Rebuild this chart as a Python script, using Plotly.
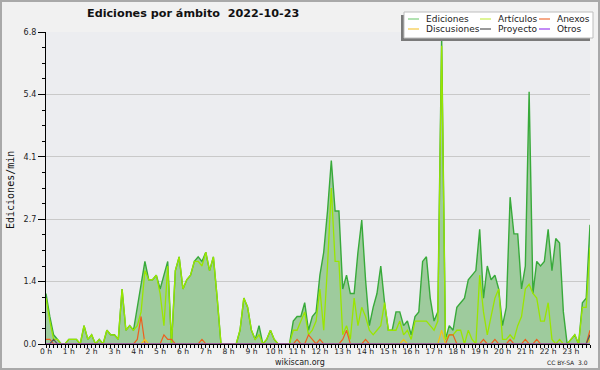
import plotly.graph_objects as go

# ---------------- data (10-minute bins, edits per minute) ----------------
hour_labels = [f"{h} h" for h in range(24)]
bins_per_hour = 6

ediciones = [
    1.1, 0.6, 0.2, 0.1, 0.0, 0.0,   # 0 h
    0.1, 0.1, 0.1, 0.0, 0.4, 0.1,   # 1 h
    0.2, 0.0, 0.1, 0.0, 0.3, 0.2,   # 2 h
    0.2, 0.1, 1.2, 0.3, 0.4, 0.3,   # 3 h
    0.8, 1.3, 1.8, 1.4, 1.4, 1.5,   # 4 h
    1.2, 1.5, 1.8, 0.0, 1.6, 1.9,   # 5 h
    1.2, 1.4, 1.5, 1.8, 1.9, 1.8,   # 6 h
    2.0, 1.6, 1.9, 1.0, 0.0, 0.0,   # 7 h
    0.0, 0.0, 0.0, 0.3, 1.0, 0.8,   # 8 h
    0.3, 0.1, 0.4, 0.0, 0.1, 0.3,   # 9 h
    0.1, 0.0, 0.0, 0.0, 0.0, 0.5,   # 10 h
    0.6, 0.6, 0.9, 0.3, 0.6, 0.7,   # 11 h
    1.5, 2.0, 2.9, 4.0, 2.9, 2.9,   # 12 h
    1.2, 1.5, 1.1, 1.1, 2.0, 2.7,   # 13 h
    1.4, 0.4, 0.8, 1.1, 1.7, 0.9,   # 14 h
    0.3, 0.3, 0.7, 0.7, 0.4, 0.5,   # 15 h
    0.2, 0.6, 0.7, 1.8, 1.9, 1.0,   # 16 h
    0.5, 0.7, 6.7, 0.1, 0.4, 0.3,   # 17 h
    0.8, 0.9, 1.0, 1.4, 1.5, 1.6,   # 18 h
    2.5, 1.0, 1.7, 1.4, 1.5, 1.2,   # 19 h
    0.4, 0.8, 3.2, 2.4, 2.4, 1.2,   # 20 h
    1.7, 5.5, 1.1, 1.8, 1.7, 1.8,   # 21 h
    2.5, 1.6, 2.3, 2.2, 0.7, 0.0,   # 22 h
    0.1, 0.2, 0.0, 0.9, 1.0, 2.6,   # 23 h
]

articulos = [
    1.0, 0.5, 0.1, 0.1, 0.0, 0.0,
    0.1, 0.1, 0.1, 0.0, 0.4, 0.1,
    0.2, 0.0, 0.1, 0.0, 0.3, 0.2,
    0.2, 0.1, 1.2, 0.3, 0.4, 0.3,
    0.4, 0.7, 1.6, 1.4, 1.4, 1.5,
    1.1, 0.4, 1.7, 0.0, 1.6, 1.9,
    1.2, 1.4, 1.5, 1.8, 1.8, 1.7,
    2.0, 1.6, 1.9, 1.0, 0.0, 0.0,
    0.0, 0.0, 0.0, 0.3, 1.0, 0.8,
    0.3, 0.1, 0.2, 0.0, 0.1, 0.3,
    0.1, 0.0, 0.0, 0.0, 0.0, 0.3,
    0.3, 0.5, 0.7, 0.2, 0.3, 0.5,
    1.2, 0.3, 1.7, 3.4, 1.8, 1.8,
    0.2, 0.4, 0.1, 1.0, 0.4, 0.8,
    0.6, 0.3, 0.2, 0.3, 0.4, 0.9,
    0.3, 0.3, 0.3, 0.5, 0.2, 0.3,
    0.1, 0.5, 0.5, 0.5, 0.5, 0.4,
    0.3, 0.5, 6.5, 0.1, 0.2, 0.2,
    0.3, 0.3, 0.0, 0.3, 0.1, 0.0,
    1.5, 0.7, 0.2, 0.6, 1.0, 1.2,
    0.1, 0.1, 0.2, 0.1, 0.4, 0.6,
    1.2, 1.3, 1.1, 1.0, 0.5, 0.5,
    0.9, 0.1, 0.0, 0.1, 0.0, 0.0,
    0.1, 0.2, 0.0, 0.8, 0.8, 2.1,
]

anexos = [
    0.1, 0.1, 0.0, 0.0, 0.0, 0.0,
    0.0, 0.0, 0.0, 0.0, 0.0, 0.0,
    0.0, 0.0, 0.0, 0.0, 0.0, 0.0,
    0.0, 0.0, 0.0, 0.0, 0.0, 0.0,
    0.1, 0.6, 0.0, 0.0, 0.0, 0.0,
    0.0, 0.2, 0.1, 0.1, 0.0, 0.0,
    0.0, 0.0, 0.0, 0.0, 0.0, 0.1,
    0.0, 0.0, 0.0, 0.0, 0.0, 0.0,
    0.0, 0.0, 0.0, 0.0, 0.0, 0.0,
    0.0, 0.0, 0.0, 0.0, 0.0, 0.0,
    0.0, 0.0, 0.0, 0.0, 0.0, 0.0,
    0.1, 0.0, 0.0, 0.2, 0.1, 0.0,
    0.1, 0.0, 0.0, 0.0, 0.0, 0.0,
    0.1, 0.3, 0.0, 0.0, 0.0, 0.0,
    0.1, 0.0, 0.0, 0.0, 0.0, 0.0,
    0.0, 0.0, 0.0, 0.0, 0.0, 0.0,
    0.0, 0.0, 0.0, 0.0, 0.0, 0.0,
    0.0, 0.0, 0.0, 0.0, 0.2, 0.2,
    0.0, 0.0, 0.0, 0.0, 0.0, 0.0,
    0.0, 0.1, 0.0, 0.0, 0.1, 0.0,
    0.0, 0.0, 0.1, 0.0, 0.0, 0.0,
    0.1, 0.0, 0.0, 0.1, 0.0, 0.0,
    0.0, 0.0, 0.0, 0.0, 0.0, 0.0,
    0.0, 0.0, 0.0, 0.0, 0.0, 0.3,
]

discusiones = [0.0] * 144
for i, v in [(26, 0.1), (94, 0.1), (104, 0.3), (143, 0.1)]:
    discusiones[i] = v

proyecto = [0.0] * 144
for i, v in [(2, 0.1), (143, 0.2)]:
    proyecto[i] = v

otros = [0.0] * 144

y_tickvals = [0, 1.36, 2.72, 4.08, 5.44, 6.8]
y_ticktext = ["0.0", "1.4", "2.7", "4.1", "5.4", "6.8"]

x = [i / bins_per_hour for i in range(len(ediciones))]

# ---------------- figure ----------------
fig = go.Figure()
fig.add_trace(go.Scatter(x=x, y=ediciones, mode="lines", fill="tozeroy",
                         fillcolor="#9ecb9d", line=dict(color="#38aa3a", width=1.4),
                         name="Ediciones"))
fig.add_trace(go.Scatter(x=x, y=articulos, mode="lines",
                         line=dict(color="#9ae600", width=1.3), name="Artículos"))
fig.add_trace(go.Scatter(x=x, y=anexos, mode="lines",
                         line=dict(color="#ee5f1e", width=1.2), name="Anexos"))
fig.add_trace(go.Scatter(x=x, y=discusiones, mode="lines",
                         line=dict(color="#f2c21a", width=1.2), name="Discusiones"))
fig.add_trace(go.Scatter(x=x, y=proyecto, mode="lines",
                         line=dict(color="#555555", width=1.2), name="Proyecto"))
fig.add_trace(go.Scatter(x=x, y=otros, mode="lines",
                         line=dict(color="#9b3ff0", width=1.2), name="Otros"))

L, R, T, B = 46, 590, 32, 344
W, H = 600, 370


def px(X):
    return (X - L) / (R - L)


def py(Y):
    return (B - Y) / (B - T)


shapes = []
annotations = []

# outer border
shapes.append(dict(type="rect", xref="paper", yref="paper",
                   x0=px(1), x1=px(599), y0=py(369), y1=py(1),
                   line=dict(color="#a9a9a9", width=2), fillcolor="rgba(0,0,0,0)", layer="above"))

# legend box (with shadow)
shapes.append(dict(type="rect", xref="paper", yref="paper",
                   x0=px(401), x1=px(590), y0=py(41), y1=py(15),
                   line=dict(width=0), fillcolor="#7a7a7a", layer="above"))
shapes.append(dict(type="rect", xref="paper", yref="paper",
                   x0=px(404), x1=px(593), y0=py(38), y1=py(12),
                   line=dict(color="#bdbdbd", width=1), fillcolor="#ffffff", layer="above"))

legend_items = [
    ("Ediciones", "#7fcf7f", 408, 424, 19),
    ("Artículos", "#c8ee50", 480, 496, 19),
    ("Anexos", "#f0703a", 539, 555, 19),
    ("Discusiones", "#f5c842", 408, 424, 29),
    ("Proyecto", "#555555", 480, 496, 29),
    ("Otros", "#9b3ff0", 539, 555, 29),
]
for name, col, lx, tx, ly in legend_items:
    shapes.append(dict(type="line", xref="paper", yref="paper",
                       x0=px(lx), x1=px(lx + 11), y0=py(ly), y1=py(ly),
                       line=dict(color=col, width=1.2), layer="above"))
    annotations.append(dict(text=name, xref="paper", yref="paper", x=px(tx), y=py(ly),
                            xanchor="left", yanchor="middle", showarrow=False,
                            font=dict(family="DejaVu Sans", size=9, color="#222222")))

# title
annotations.append(dict(text="<b>Ediciones por ámbito  2022-10-23</b>", xref="paper", yref="paper",
                        x=px(85), y=py(14), xanchor="left", yanchor="middle", showarrow=False,
                        font=dict(family="DejaVu Sans", size=11.2, color="#111111")))
# y axis title
annotations.append(dict(text="Ediciones/min", xref="paper", yref="paper",
                        x=px(10), y=py(190), xanchor="center", yanchor="middle", textangle=-90,
                        showarrow=False, font=dict(family="DejaVu Sans Mono", size=10, color="#111111")))
# footer
annotations.append(dict(text="wikiscan.org", xref="paper", yref="paper",
                        x=px(300), y=py(362), xanchor="center", yanchor="middle", showarrow=False,
                        font=dict(family="DejaVu Sans", size=8, color="#222222")))
annotations.append(dict(text="CC BY-SA  3.0", xref="paper", yref="paper",
                        x=px(590), y=py(362), xanchor="right", yanchor="middle", showarrow=False,
                        font=dict(family="DejaVu Sans", size=6, color="#222222")))

fig.update_layout(
    width=W, height=H,
    margin=dict(l=L, r=W - R, t=T, b=H - B, pad=0),
    paper_bgcolor="#f1f1f1",
    plot_bgcolor="#ecedf0",
    showlegend=False,
    shapes=shapes,
    annotations=annotations,
)

fig.update_xaxes(
    range=[0, x[-1]], autorange=False,
    tickmode="array", tickvals=list(range(24)), ticktext=hour_labels,
    ticks="outside", ticklen=3, tickcolor="#000000", tickwidth=1,
    ticklabelstandoff=-3,
    showline=True, linecolor="#000000", linewidth=1.2,
    showgrid=False, zeroline=False,
    tickfont=dict(family="DejaVu Sans", size=7.6, color="#222222"),
    minor=dict(tickmode="linear", tick0=0, dtick=1 / bins_per_hour, ticks="outside",
               ticklen=3, tickcolor="#000000", tickwidth=1, showgrid=False),
)
fig.update_yaxes(
    range=[0, 6.8], autorange=False,
    tickmode="array", tickvals=y_tickvals, ticktext=y_ticktext,
    ticks="outside", ticklen=7, tickcolor="#000000", tickwidth=1,
    showline=True, linecolor="#000000", linewidth=1.2,
    showgrid=True, gridcolor="#c9c9c9", gridwidth=1, zeroline=False,
    tickfont=dict(family="DejaVu Sans", size=8, color="#222222"),
    minor=dict(tickmode="linear", tick0=0, dtick=0.34, ticks="outside",
               ticklen=3, tickcolor="#000000", tickwidth=1, showgrid=False),
)

fig.write_html(
    "out.html",
    config={"displayModeBar": False},
    post_script="document.body.style.margin='0';document.body.style.padding='0';"
                "document.documentElement.style.overflow='hidden';",
)
